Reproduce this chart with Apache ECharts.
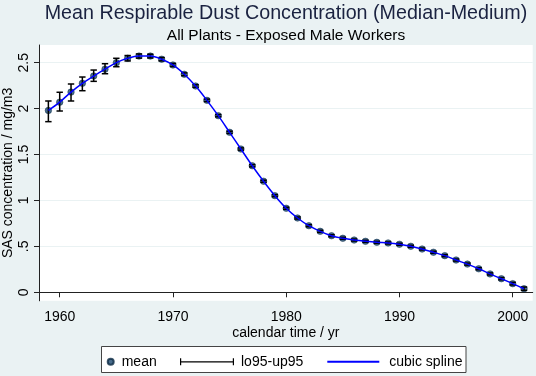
<!DOCTYPE html>
<html><head><meta charset="utf-8">
<script src="https://cdn.jsdelivr.net/npm/echarts@6/dist/echarts.min.js"></script>
<style>html,body{margin:0;padding:0;background:#eaf2f3}#c{width:536px;height:376px}</style>
</head><body><div id="c"></div>
<script>
const years = [1959,1960,1961,1962,1963,1964,1965,1966,1967,1968,1969,1970,1971,1972,1973,1974,1975,1976,1977,1978,1979,1980,1981,1982,1983,1984,1985,1986,1987,1988,1989,1990,1991,1992,1993,1994,1995,1996,1997,1998,1999,2000,2001];
const means = [1.98,2.07,2.18,2.275,2.355,2.43,2.50,2.548,2.572,2.572,2.538,2.475,2.374,2.246,2.09,1.923,1.742,1.56,1.378,1.209,1.052,0.915,0.809,0.725,0.664,0.616,0.588,0.569,0.555,0.544,0.537,0.523,0.501,0.471,0.436,0.399,0.351,0.307,0.256,0.2,0.148,0.094,0.039];
const lo95 = [1.858,1.974,2.083,2.195,2.297,2.38,2.456,2.519,2.55,2.552,2.52,2.459,2.359,2.232,2.077,1.911,1.73,1.548,1.366,1.198,1.041,0.904,0.798,0.714,0.653,0.605,0.577,0.558,0.544,0.533,0.526,0.512,0.490,0.460,0.425,0.388,0.340,0.296,0.245,0.189,0.136,0.080,0.021];
const up95 = [2.083,2.178,2.268,2.344,2.42,2.489,2.548,2.578,2.595,2.592,2.556,2.491,2.389,2.26,2.103,1.935,1.754,1.572,1.39,1.22,1.063,0.926,0.820,0.736,0.675,0.627,0.599,0.580,0.566,0.555,0.548,0.534,0.512,0.482,0.447,0.410,0.362,0.318,0.267,0.211,0.160,0.108,0.057];
const xTicks = [1960,1970,1980,1990,2000];
const yTicks = [0,0.5,1,1.5,2,2.5];
const titleText = 'Mean Respirable Dust Concentration (Median-Medium)';
const subtitleText = 'All Plants - Exposed Male Workers';

const FONT = '"Liberation Sans", Arial, sans-serif';
const meanData = years.map((y, i) => [y, means[i]]);
const ciData = years.map((y, i) => [y, lo95[i], up95[i]]);

const chart = echarts.init(document.getElementById('c'), null, {renderer: 'canvas'});
const txt = {fontFamily: FONT, fontSize: 14, color: '#000'};
chart.setOption({
  animation: false,
  backgroundColor: '#eaf2f3',
  title: [
    {text: titleText, left: 286, top: 4, textAlign: 'center', padding: 0,
     textStyle: {fontFamily: FONT, fontSize: 19.7, fontWeight: 'normal', color: '#1a2240'}},
    {text: subtitleText, left: 286, top: 28, textAlign: 'center', padding: 0,
     textStyle: {fontFamily: FONT, fontSize: 15.5, fontWeight: 'normal', color: '#000'}}
  ],
  grid: {left: 39, right: 3.3, top: 45, bottom: 75.2, show: true, backgroundColor: '#fff', borderWidth: 0,
         containLabel: false, outerBoundsMode: 'none'},
  xAxis: {
    type: 'value', min: 1958.172, max: 2001.766,
    name: 'calendar time / yr', nameLocation: 'middle', nameGap: 25, nameTextStyle: txt, nameMoveOverlap: false,
    axisLine: {show: true, lineStyle: {color: '#222', width: 1}},
    axisTick: {show: true, customValues: xTicks, length: 5, lineStyle: {color: '#222'}},
    axisLabel: {customValues: xTicks, margin: 9, ...txt, formatter: v => String(v)},
    splitLine: {show: false}
  },
  yAxis: {
    type: 'value', min: -0.0926, max: 2.6927,
    name: 'SAS concentration / mg/m3', nameLocation: 'middle', nameGap: 23.5, nameRotate: 90, nameTextStyle: txt,
    nameMoveOverlap: false,
    axisLine: {show: true, lineStyle: {color: '#222', width: 1}},
    axisTick: {show: true, customValues: yTicks, length: 5, lineStyle: {color: '#222'}},
    axisLabel: {customValues: yTicks, rotate: 90, margin: 7.5, ...txt,
      formatter: v => (v > 0 && v < 1) ? String(v).replace(/^0/, '') : String(v)},
    splitLine: {show: true, lineStyle: {color: '#eaf2f3', width: 1}}
  },
  legend: [
    {data: [{name: 'mean', icon: 'circle'}], left: 106.7, top: 354.7, padding: 0, itemWidth: 12, itemHeight: 6,
     selectedMode: false, textStyle: txt, z: 5},
    {data: [{name: 'lo95-up95', icon: 'path://M0,0h1.2v7h-1.2z M0,3h54v1.2h-54z M52.8,0h1.2v7h-1.2z'}], left: 180, top: 354.7, padding: 0,
     itemWidth: 54, itemHeight: 7, selectedMode: false, textStyle: {...txt, padding: [0,0,0,2]}, z: 5},
    {data: [{name: 'cubic spline', icon: 'rect'}], left: 327.3, top: 354.7, padding: 0, itemWidth: 52, itemHeight: 2,
     selectedMode: false, textStyle: {...txt, padding: [0,0,0,5]}, z: 5}
  ],
  graphic: [
    {type: 'rect', shape: {x: 101.5, y: 346.5, width: 364.5, height: 26}, style: {fill: '#fff', stroke: '#444', lineWidth: 1}, z: 1}
  ],
  series: [
    {name: 'mean', type: 'scatter', data: meanData, symbol: 'circle', symbolSize: 6.5,
     itemStyle: {color: '#1a476f', borderColor: '#0d2a44', borderWidth: 0.6}, z: 2},
    {name: 'lo95-up95', type: 'custom', data: ciData, encode: {x: 0, y: [1, 2]},
     itemStyle: {color: '#000'}, z: 3,
     renderItem: (params, api) => {
       const x = api.value(0);
       const pLo = api.coord([x, api.value(1)]);
       const pHi = api.coord([x, api.value(2)]);
       const w = 3.2;
       const st = {stroke: '#000', lineWidth: 1.5};
       return {type: 'group', children: [
         {type: 'line', shape: {x1: pLo[0], y1: pLo[1], x2: pHi[0], y2: pHi[1]}, style: st},
         {type: 'line', shape: {x1: pLo[0] - w, y1: pLo[1], x2: pLo[0] + w, y2: pLo[1]}, style: st},
         {type: 'line', shape: {x1: pHi[0] - w, y1: pHi[1], x2: pHi[0] + w, y2: pHi[1]}, style: st}
       ]};
     }},
    {name: 'cubic spline', type: 'line', data: meanData, smooth: 0.35, symbol: 'none', color: '#0000ff',
     lineStyle: {color: '#0000ff', width: 1.5}, itemStyle: {color: '#0000ff'}, z: 4}
  ]
});
</script>
</body></html>
